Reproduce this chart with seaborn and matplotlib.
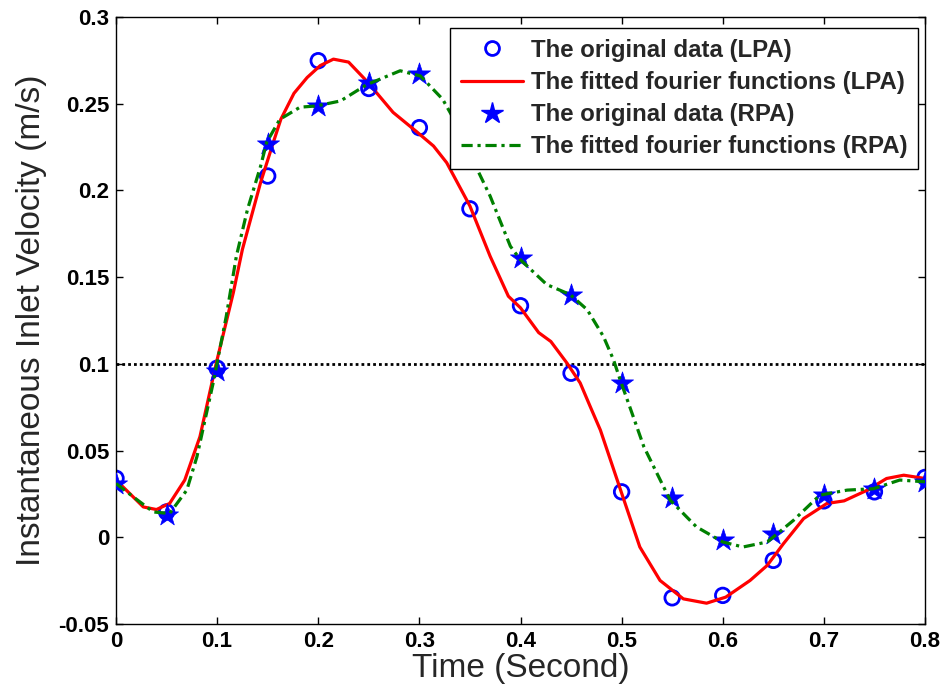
import numpy as np
import pandas as pd
import matplotlib
matplotlib.use("Agg")
import matplotlib.pyplot as plt
from matplotlib.lines import Line2D
import seaborn as sns

sns.set_theme(style="white")
plt.rcParams['font.family'] = ['Liberation Sans', 'DejaVu Sans']
plt.rcParams['axes.edgecolor'] = 'black'
plt.rcParams['xtick.color'] = 'black'
plt.rcParams['ytick.color'] = 'black'

# ---- data ----
t_data = [0.0, 0.05, 0.1, 0.15, 0.2, 0.25, 0.3, 0.35, 0.4, 0.45, 0.5,
          0.55, 0.6, 0.65, 0.7, 0.75, 0.8]
lpa_data = [0.034, 0.0146, 0.0975, 0.2083, 0.2748, 0.2588, 0.2362, 0.1894, 0.1335,
            0.0946, 0.0262, -0.0349, -0.0335, -0.0133, 0.021, 0.0262, 0.0345]
rpa_data = [0.031, 0.0127, 0.0956, 0.2266, 0.2487, 0.2622, 0.267, 0.222, 0.1611,
            0.1399, 0.0892, 0.0224, -0.0017, 0.0017, 0.0243, 0.0281, 0.032]

lpa_fit_t = [0.0, 0.014, 0.027, 0.040, 0.053, 0.068, 0.083, 0.099, 0.116, 0.125,
             0.143, 0.156, 0.163, 0.176, 0.189, 0.202, 0.215, 0.230, 0.248, 0.274, 0.297, 0.314,
             0.327, 0.350, 0.370, 0.388, 0.400, 0.418, 0.430, 0.446, 0.459, 0.469,
             0.479, 0.499, 0.518, 0.538, 0.561, 0.584, 0.603, 0.627, 0.644, 0.660,
             0.680, 0.703, 0.720, 0.743, 0.762, 0.779, 0.800]
lpa_fit_v = [0.033, 0.025, 0.0175, 0.016, 0.0195, 0.033, 0.058, 0.100, 0.141, 0.166,
             0.2046, 0.2285, 0.241, 0.256, 0.2651, 0.272, 0.2757, 0.274, 0.263, 0.245, 0.234, 0.2256,
             0.216, 0.191, 0.162, 0.139, 0.1323, 0.118, 0.1129, 0.1004, 0.089, 0.0753,
             0.0618, 0.0272, -0.0056, -0.0249, -0.0355, -0.038, -0.0345, -0.0249, -0.0162, -0.0037,
             0.0108, 0.0195, 0.021, 0.0272, 0.0339, 0.0358, 0.0339]

rpa_fit_t = [0.0, 0.020, 0.037, 0.053, 0.070, 0.080, 0.096, 0.109, 0.119, 0.130,
             0.143, 0.149, 0.162, 0.182, 0.198, 0.222, 0.248, 0.281, 0.301, 0.323,
             0.340, 0.358, 0.370, 0.390, 0.400, 0.426, 0.449, 0.466, 0.482, 0.492,
             0.499, 0.508, 0.522, 0.548, 0.574, 0.600, 0.620, 0.644, 0.670, 0.696,
             0.723, 0.749, 0.775, 0.800]
rpa_fit_v = [0.031, 0.022, 0.0146, 0.0137, 0.0272, 0.0464, 0.0888, 0.1273, 0.162, 0.189,
             0.214, 0.2277, 0.241, 0.248, 0.2487, 0.2516, 0.261, 0.269, 0.266, 0.2526,
             0.235, 0.2112, 0.1967, 0.1678, 0.160, 0.1457, 0.140, 0.1312, 0.1158, 0.1023,
             0.090, 0.0753, 0.0522, 0.0214, 0.006, -0.0027, -0.0056, -0.0027, 0.0098, 0.0243,
             0.0272, 0.028, 0.033, 0.032]

ref_level = 0.1
x_ticks = [0, 0.1, 0.2, 0.3, 0.4, 0.5, 0.6, 0.7, 0.8]
x_tick_labels = ["0", "0.1", "0.2", "0.3", "0.4", "0.5", "0.6", "0.7", "0.8"]
y_ticks = [-0.05, 0, 0.05, 0.1, 0.15, 0.2, 0.25, 0.3]
y_tick_labels = ["-0.05", "0", "0.05", "0.1", "0.15", "0.2", "0.25", "0.3"]
legend_labels = ["The original data (LPA)", "The fitted fourier functions (LPA)",
                 "The original data (RPA)", "The fitted fourier functions (RPA)"]

pts = pd.DataFrame({"t": t_data, "lpa": lpa_data, "rpa": rpa_data})
lfit = pd.DataFrame({"t": lpa_fit_t, "v": lpa_fit_v})
rfit = pd.DataFrame({"t": rpa_fit_t, "v": rpa_fit_v})

# ---- figure ----
fig = plt.figure(figsize=(9.44, 6.96), dpi=100)
ax = fig.add_axes([116 / 944, 1 - 624 / 696, (925 - 116) / 944, (624 - 17) / 696])

blue = (0, 0, 1)
red = (1, 0, 0)
green = (0, 0.5, 0)
dashdot = (0, (3.5, 1.5, 1, 1.5))

ax.axhline(ref_level, color='black', lw=2.0, ls=(0, (1, 1.1)), zorder=1.5)

sns.scatterplot(data=pts, x="t", y="lpa", ax=ax, marker='o', s=110,
                facecolor='none', edgecolor=blue, linewidth=2.0, zorder=2, legend=False)
sns.lineplot(data=lfit, x="t", y="v", ax=ax, sort=False, color=red, lw=2.3,
             zorder=3, legend=False)
sns.scatterplot(data=pts, x="t", y="rpa", ax=ax, marker='*', s=280,
                color=blue, edgecolor=blue, linewidth=0.5, zorder=4, legend=False)
sns.lineplot(data=rfit, x="t", y="v", ax=ax, sort=False, color=green, lw=2.3,
             ls=dashdot, zorder=5, legend=False)

ax.set_xlim(0, 0.8)
ax.set_ylim(-0.05, 0.3)
ax.set_xticks(x_ticks)
ax.set_xticklabels(x_tick_labels, fontweight='bold', fontsize=16)
ax.set_yticks(y_ticks)
ax.set_yticklabels(y_tick_labels, fontweight='bold', fontsize=16)
ax.tick_params(direction='in', top=True, right=True, length=5, width=1, pad=5,
               bottom=True, left=True)
for s in ax.spines.values():
    s.set_linewidth(1.0)
    s.set_color('black')

ax.set_xlabel("Time (Second)", fontsize=24, labelpad=1)
ax.set_ylabel("Instantaneous Inlet Velocity (m/s)", fontsize=24, labelpad=8)

handles = [
    Line2D([], [], ls='none', marker='o', ms=10, mfc='none', mec=blue, mew=2.0),
    Line2D([], [], color=red, lw=2.3),
    Line2D([], [], ls='none', marker='*', ms=16, mfc=blue, mec=blue),
    Line2D([], [], color=green, lw=2.3, ls=dashdot),
]
leg = ax.legend(handles, legend_labels, loc='upper right',
                bbox_to_anchor=((918 - 116) / (925 - 116), (624 - 28) / (624 - 17)),
                borderaxespad=0, fancybox=False, framealpha=1, edgecolor='black',
                prop={'weight': 'bold', 'size': 17.3}, handlelength=2.6,
                labelspacing=0.38, borderpad=0.45, handletextpad=0.3)
leg.get_frame().set_linewidth(1.0)
leg.set_zorder(10)

fig.savefig("out.png", dpi=100)
